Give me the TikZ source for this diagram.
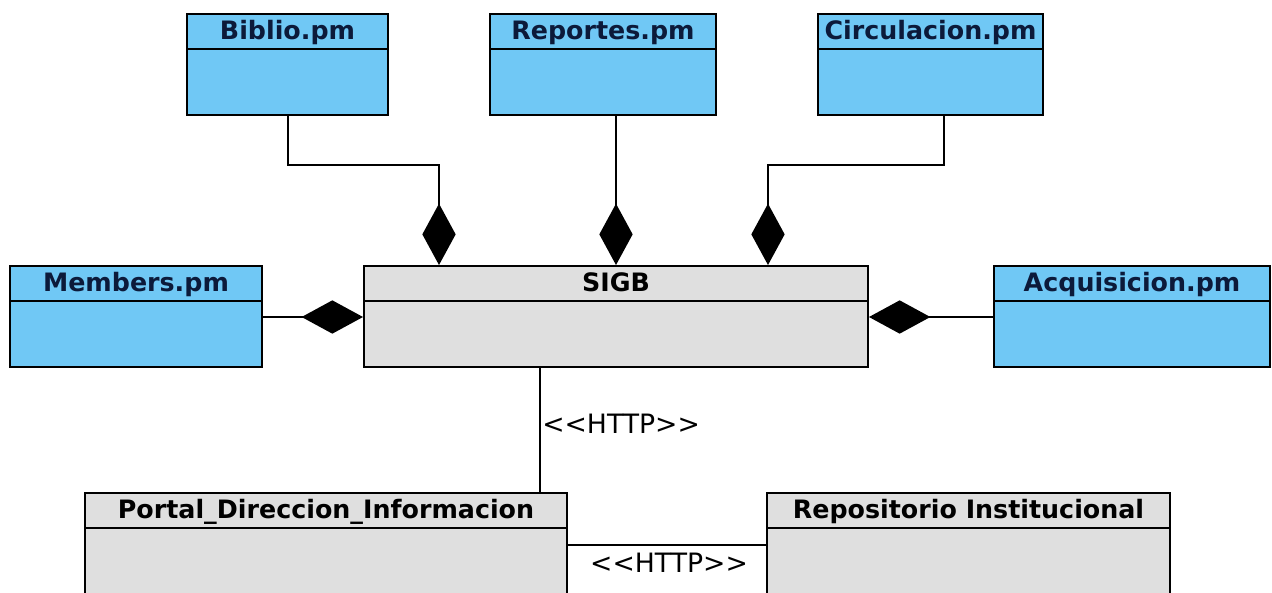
\documentclass[tikz,border=0pt]{standalone}
\usepackage{fontspec}
\setmainfont{DejaVu Sans}
\usetikzlibrary{arrows.meta,calc,fit}

\definecolor{modblue}{RGB}{112,200,245}
\definecolor{modgrey}{RGB}{223,223,223}
\definecolor{navytext}{RGB}{12,26,58}

\tikzset{
  classbox/.style={draw=black, line width=1.5pt, rectangle, inner sep=0pt},
  bluebox/.style={classbox, fill=modblue},
  greybox/.style={classbox, fill=modgrey},
  divider/.style={draw=black, line width=1.5pt},
  title/.style={font=\bfseries\fontsize{19}{19}\selectfont, anchor=base, inner sep=0pt},
  bluetitle/.style={title, text=navytext},
  conn/.style={draw=black, line width=1.4pt},
  comp/.style={conn, -{Diamond[length=46pt,width=25pt]}},
  stereo/.style={font=\fontsize{20}{20}\selectfont, inner sep=0pt}
}

\newcommand\httplabel{{<}{<}HTTP{>}{>}}

\begin{document}
\begin{tikzpicture}[x=0.75pt, y=-0.75pt]
  \useasboundingbox (0,0) rectangle (1272,593);
  \clip (0,0) rectangle (1272,593);

  % module classes
  \node[bluebox, fit={(187,14) (388,115)}] (biblio) {};
  \node[bluebox, fit={(490,14) (716,115)}] (reportes) {};
  \node[bluebox, fit={(818,14) (1043,115)}] (circ) {};
  \node[bluebox, fit={(10,266) (262,367)}] (members) {};
  \node[greybox, fit={(364,266) (868,367)}] (sigb) {};
  \node[bluebox, fit={(994,266) (1270,367)}] (acq) {};
  \node[greybox, fit={(85,493) (567,610)}] (portal) {};
  \node[greybox, fit={(767,493) (1170,610)}] (repo) {};

  % compartment dividers and titles
  \foreach \c in {biblio,reportes,circ,members,sigb,acq,portal,repo}{
    \draw[divider] ($(\c.north west)+(0,36)$) -- ($(\c.north east)+(0,36)$);
  }
  \node[bluetitle] (biblio-t) at ($(biblio.north)+(0,26)$) {Biblio.pm};
  \node[bluetitle] (reportes-t) at ($(reportes.north)+(0,26)$) {Reportes.pm};
  \node[bluetitle] (circ-t) at ($(circ.north)+(0,26)$) {Circulacion.pm};
  \node[bluetitle] (members-t) at ($(members.north)+(0,26)$) {Members.pm};
  \node[title] (sigb-t) at ($(sigb.north)+(0,26)$) {SIGB};
  \node[bluetitle] (acq-t) at ($(acq.north)+(0,26)$) {Acquisicion.pm};
  \node[title] (portal-t) at ($(portal.north)+(0,26)$) {Portal\_Direccion\_Informacion};
  \node[title] (repo-t) at ($(repo.north)+(0,26)$) {Repositorio Institucional};

  % composition links into SIGB
  \coordinate (bib-bend) at (288,165);
  \coordinate (bib-in) at (439,165);
  \coordinate (rep-out) at (616,115);
  \coordinate (circ-bend) at (944,165);
  \coordinate (circ-in) at (768,165);
  \draw[comp] (bib-bend |- biblio.south) -- (bib-bend) -- (bib-in) -- (bib-in |- sigb.north);
  \draw[comp] (rep-out) -- (rep-out |- sigb.north);
  \draw[comp] (circ-bend |- circ.south) -- (circ-bend) -- (circ-in) -- (circ-in |- sigb.north);
  \coordinate (mem-y) at (0,317);
  \draw[comp] (members.east |- mem-y) -- (sigb.west |- mem-y);
  \draw[comp] (acq.west |- mem-y) -- (sigb.east |- mem-y);

  % HTTP dependencies
  \coordinate (http-x) at (540,0);
  \draw[conn] (http-x |- sigb.south) -- (http-x |- portal.north);
  \node[stereo, anchor=west] (http1) at (542,424) {\httplabel};
  \coordinate (http2-y) at (0,545);
  \draw[conn] (portal.east |- http2-y) -- (repo.west |- http2-y);
  \node[stereo] (http2) at (669,563) {\httplabel};
\end{tikzpicture}
\end{document}
